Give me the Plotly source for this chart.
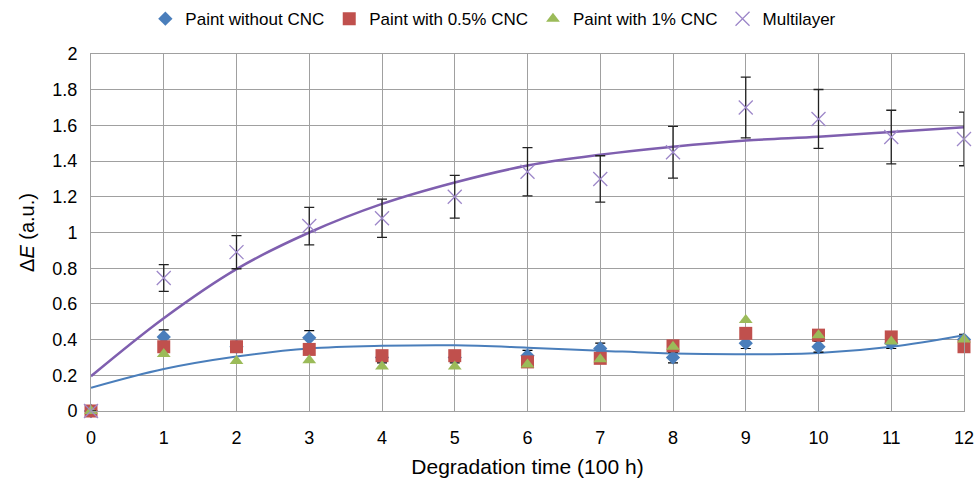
import plotly.graph_objects as go

time = [0, 1, 2, 3, 4, 5, 6, 7, 8, 9, 10, 11, 12]

paint_no_cnc = [0, 0.415, 0.36, 0.41, 0.30, 0.30, 0.31, 0.35, 0.30, 0.38, 0.36, 0.38, 0.40]
paint_no_cnc_err = [0, 0.04, 0.03, 0.04, 0.03, 0.03, 0.03, 0.03, 0.03, 0.03, 0.03, 0.03, 0.03]
paint_05_cnc = [0, 0.36, 0.36, 0.345, 0.31, 0.31, 0.275, 0.295, 0.365, 0.435, 0.425, 0.415, 0.36]
paint_1_cnc = [0, 0.32, 0.28, 0.285, 0.25, 0.25, 0.26, 0.29, 0.36, 0.51, 0.425, 0.39, 0.40]
multilayer = [0, 0.745, 0.89, 1.036, 1.08, 1.2, 1.34, 1.30, 1.45, 1.70, 1.636, 1.535, 1.524]
multilayer_err = [0, 0.075, 0.093, 0.105, 0.107, 0.12, 0.135, 0.13, 0.145, 0.17, 0.165, 0.15, 0.15]

fit_paint = [0.13, 0.235, 0.305, 0.35, 0.365, 0.368, 0.355, 0.338, 0.322, 0.318, 0.325, 0.36, 0.425]
fit_multi = [0.195, 0.52, 0.795, 1.0, 1.16, 1.28, 1.375, 1.435, 1.48, 1.515, 1.537, 1.563, 1.59]

BLUE = "#4a7ebb"
RED = "#c0504d"
GREEN = "#9bbb59"
PURPLE_M = "#9d87c9"
PURPLE_L = "#7f5faf"

fig = go.Figure()

fig.add_trace(go.Scatter(x=time, y=fit_paint, mode="lines", line=dict(color=BLUE, width=2, shape="spline"),
                         showlegend=False, hoverinfo="skip"))
fig.add_trace(go.Scatter(x=time, y=fit_multi, mode="lines", line=dict(color=PURPLE_L, width=2.5, shape="spline"),
                         showlegend=False, hoverinfo="skip"))

fig.add_trace(go.Scatter(
    x=time, y=paint_no_cnc, mode="markers", name="Paint without CNC",
    marker=dict(symbol="diamond", size=11, color=BLUE),
    error_y=dict(type="data", array=paint_no_cnc_err, color="black", thickness=1.2, width=5),
    cliponaxis=False))
fig.add_trace(go.Scatter(
    x=time, y=paint_05_cnc, mode="markers", name="Paint with 0.5% CNC",
    marker=dict(symbol="square", size=13, color=RED), cliponaxis=False))
fig.add_trace(go.Scatter(
    x=time, y=paint_1_cnc, mode="markers", name="Paint with 1% CNC",
    marker=dict(symbol="triangle-up", size=12, color=GREEN), cliponaxis=False))
fig.add_trace(go.Scatter(
    x=time, y=multilayer, mode="markers", name="Multilayer",
    marker=dict(symbol="x-thin-open", size=14, color=PURPLE_M, line=dict(color=PURPLE_M, width=1.3)),
    error_y=dict(type="data", array=multilayer_err, color="#222222", thickness=1.3, width=5),
    cliponaxis=False))

FONT = "Liberation Sans, Arial, sans-serif"
fig.update_layout(
    width=975, height=478,
    margin=dict(l=91, r=11, t=54, b=67, autoexpand=False),
    paper_bgcolor="white", plot_bgcolor="white",
    font=dict(family=FONT, color="black", size=17),
    showlegend=True,
    legend=dict(orientation="h", xref="container", x=0.506, xanchor="center",
                yref="container", y=0.96, yanchor="middle", font=dict(size=17), itemwidth=30,
                traceorder="normal", bgcolor="rgba(0,0,0,0)"),
    xaxis=dict(range=[0, 12], tickmode="linear", dtick=1, showgrid=True, gridcolor="#a0a0a0",
               gridwidth=1, zeroline=False, showline=True, linecolor="#a0a0a0", mirror=True,
               ticks="", tickfont=dict(size=18), ticklabelstandoff=10,
               title=dict(text="Degradation time (100 h)", font=dict(size=21), standoff=14)),
    yaxis=dict(range=[0, 2], tickmode="linear", dtick=0.2, showgrid=True, gridcolor="#a0a0a0",
               gridwidth=1, zeroline=False, showline=True, linecolor="#a0a0a0", mirror=True,
               ticks="", tickfont=dict(size=18), tickformat="~g", ticklabelstandoff=9,
               title=dict(text="Δ<i>E</i> (a.u.)", font=dict(size=20), standoff=12)),
)

fig.write_html("out.html")
